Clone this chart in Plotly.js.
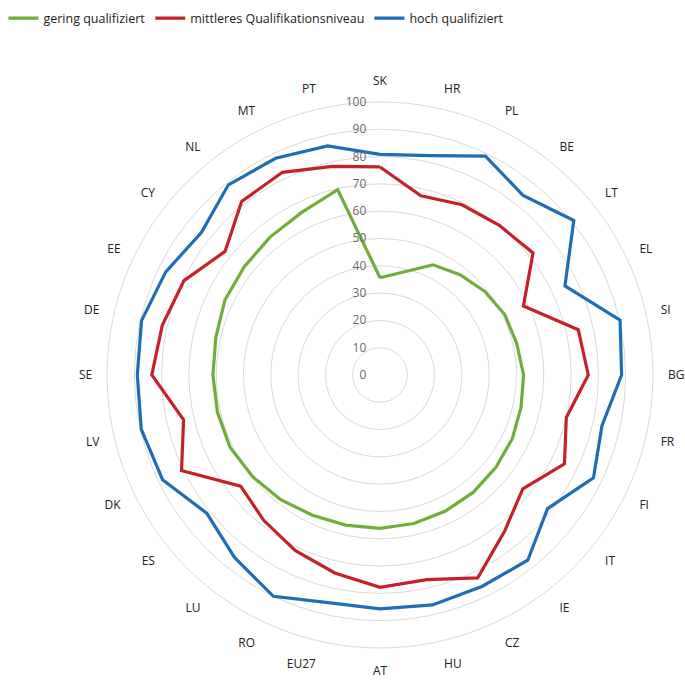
<!DOCTYPE html>
<html>
<head>
<meta charset="utf-8">
<script src="https://cdn.plot.ly/plotly-3.0.1.min.js"></script>
<style>html,body{margin:0;padding:0;background:#fff;}#chart{width:685px;height:680px;}</style>
</head>
<body>
<div id="chart"></div>
<script>
var categories = ["SK","HR","PL","BE","LT","EL","SI","BG","FR","FI","IT","IE","CZ","HU","AT","EU27","RO","LU","ES","DK","LV","SE","DE","EE","CY","NL","MT","PT"];
var gering = [35.6,38.7,44.8,47,49.1,50.8,51.4,52.6,53,53.8,54.3,54.9,55.3,55.8,56.2,56.4,57,58.4,59.7,61,61.1,61.2,61.7,63.1,63.6,64.6,66.1,69.6];
var mittleres = [76.2,67.3,69.2,70.1,71.7,58.3,74.5,76.3,70,75,66.9,73.2,82.5,76.9,77.8,74.4,71.4,68.2,65.3,80.7,73.8,83.6,81.8,79.7,72.6,81.3,82.4,78.4];
var hoch = [80.8,82.4,89,84.1,90.8,75.2,90.2,88.5,83.4,86.8,78.5,86.8,86,86.4,85.7,85.5,90,85.5,81.2,88.4,89.7,88.9,89.6,87.1,83.7,89.1,88.1,86.1];
var seriesNames = ["gering qualifiziert","mittleres Qualifikationsniveau","hoch qualifiziert"];
var radialTicks = [0,10,20,30,40,50,60,70,80,90,100];

function closed(arr){ return arr.concat([arr[0]]); }

var colors = ["#72ad3c","#c4222b","#1f6db5"];
var data = [gering, mittleres, hoch].map(function(vals, i){
  return {
    type: "scatterpolar",
    mode: "lines",
    name: seriesNames[i],
    r: closed(vals),
    theta: closed(categories),
    line: {color: colors[i], width: 3.2},
    hoverinfo: "skip"
  };
});

var layout = {
  width: 685, height: 680,
  margin: {l:0, r:0, t:0, b:0},
  paper_bgcolor: "#fff",
  font: {family: "Open Sans, DejaVu Sans, sans-serif", size: 12, color: "#333"},
  showlegend: true,
  legend: {
    orientation: "h", x: 0.005, y: 0.995, xanchor: "left", yanchor: "top",
    font: {size: 12.5, color: "#222"}, itemwidth: 30, traceorder: "normal"
  },
  polar: {
    domain: {x: [0.1562, 0.9533], y: [0.0471, 0.85]},
    bgcolor: "#fff",
    radialaxis: {
      range: [0, 100], tickvals: radialTicks, ticktext: radialTicks.map(String),
      showline: false, ticks: "outside", ticklen: 9, tickcolor: "rgba(0,0,0,0)",
      gridcolor: "#d9d9d9", gridwidth: 1,
      tickfont: {size: 12, color: "#6a6a6a"}, angle: 90, tickangle: 90, side: "counterclockwise"
    },
    angularaxis: {
      direction: "clockwise", rotation: 90, type: "category",
      categoryarray: categories, showgrid: false,
      ticks: "outside", ticklen: 12, tickcolor: "rgba(0,0,0,0)",
      showline: true, linecolor: "#d9d9d9", linewidth: 1,
      tickfont: {size: 12, color: "#222"}
    }
  }
};

Plotly.newPlot("chart", data, layout, {staticPlot: true});
</script>
</body>
</html>
